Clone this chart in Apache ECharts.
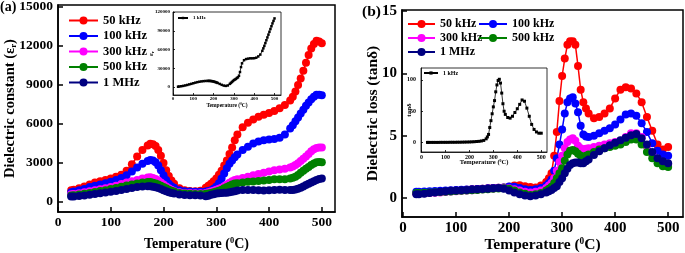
<!DOCTYPE html>
<html>
<head>
<meta charset="utf-8">
<title>Dielectric constant and dielectric loss vs temperature</title>
<script src="https://cdn.jsdelivr.net/npm/echarts@6.0.0/dist/echarts.min.js"></script>
<style>
    html, body { margin: 0; padding: 0; background: #fff; }
    #chart { width: 685px; height: 253px; }
</style>
</head>
<body>
<div id="chart"></div>
<script>

// Data - panel (a), dielectric constant
// ------------------------------

var tempsA = [
    25, 30, 40, 50, 60, 70, 80, 90, 100, 110, 120, 130, 140, 150, 160,
    170, 175, 180, 185, 190, 195, 200, 205, 210, 215, 220,
    230, 240, 250, 260, 270,
    280, 285, 290, 295, 300, 305, 310, 315, 320, 325, 330, 335, 340,
    350, 360, 370, 380, 390, 400, 410, 420, 430,
    440, 445, 450, 455, 460, 465, 470, 475, 480, 485, 490, 495, 500
];

var epsA50k = [
    900, 950, 1050, 1200, 1350, 1500, 1600, 1700, 1800, 1950, 2100, 2400, 2900, 3500, 4000,
    4350, 4480, 4450, 4300, 4000, 3550, 3000, 2450, 2000, 1650, 1400,
    1050, 900, 850, 830, 870,
    1100, 1250, 1400, 1600, 1800, 2100, 2400, 2800, 3200, 3700, 4200, 4750, 5200,
    5750, 6100, 6350, 6550, 6700, 6850, 7000, 7200, 7450,
    7800, 8100, 8500, 9000, 9500, 10100, 10700, 11300, 11800, 12150, 12400, 12350, 12200
];
var epsA100k = [
    750, 800, 900, 1000, 1150, 1250, 1350, 1450, 1550, 1700, 1850, 2050, 2350, 2650, 2950,
    3150, 3230, 3200, 3050, 2800, 2450, 2050, 1700, 1400, 1220, 1100,
    900, 820, 800, 790, 780,
    800, 840, 900, 1020, 1200, 1450, 1800, 2200, 2600, 2950, 3200, 3450, 3650,
    4000, 4250, 4500, 4650, 4750, 4800, 4850, 4950, 5200,
    5650, 5900, 6200, 6500, 6800, 7100, 7400, 7650, 7900, 8100, 8250, 8250, 8200
];
var epsA300k = [
    600, 620, 680, 750, 820, 900, 980, 1060, 1150, 1250, 1380, 1500, 1600, 1700, 1800,
    1880, 1900, 1850, 1760, 1650, 1500, 1350, 1200, 1050, 950, 850,
    750, 700, 690, 680, 680,
    700, 740, 800, 870, 950, 1020, 1100, 1220, 1350, 1480, 1600, 1690, 1750,
    1850, 1950, 2050, 2150, 2250, 2350, 2450, 2500, 2550,
    2650, 2730, 2850, 2980, 3150, 3320, 3500, 3700, 3900, 4050, 4150, 4200, 4200
];
var epsA500k = [
    500, 520, 580, 640, 700, 770, 840, 910, 990, 1080, 1170, 1260, 1350, 1430, 1500,
    1530, 1530, 1480, 1420, 1350, 1250, 1150, 1050, 950, 870, 800,
    700, 650, 630, 620, 620,
    630, 660, 700, 750, 800, 870, 950, 1050, 1150, 1250, 1350, 1420, 1450,
    1500, 1550, 1580, 1620, 1660, 1700, 1750, 1750, 1750,
    1800, 1860, 1950, 2080, 2250, 2400, 2550, 2700, 2850, 2960, 3050, 3070, 3050
];
var epsA1M = [
    420, 430, 460, 500, 560, 620, 680, 730, 780, 850, 920, 1000, 1080, 1150, 1200,
    1220, 1220, 1180, 1140, 1080, 1000, 900, 820, 750, 700, 650,
    580, 540, 520, 510, 500,
    450, 480, 550, 600, 650, 680, 700, 710, 720, 750, 780, 830, 880,
    930, 930, 920, 900, 890, 900, 930, 950, 930,
    920, 930, 960, 1020, 1100, 1200, 1300, 1400, 1500, 1600, 1700, 1770, 1800
];
// inset of (a): 1 kHz
var epsA1k = [
    500, 800, 1200, 1800, 2500, 3300, 4200, 5100, 6000, 7000, 7800, 8500, 9000, 9400, 9700,
    9800, 9850, 9800, 9700, 9500, 9200, 8800, 8300, 7800, 7200, 6500,
    5000, 3500, 2300, 1800, 2500,
    5000, 6500, 8000, 9500, 11000, 12000, 13000, 14500, 15500, 18000, 24000, 32000, 38000,
    43000, 44800, 45500, 46000, 46000, 46200, 47000, 49000, 52000,
    58000, 62000, 66000, 70500, 75000, 79500, 84000, 88500, 93000, 97500, 102000, 106000, 110000
];

// Data - panel (b), dielectric loss
// ------------------------------

var tempsB = [
    25, 30, 40, 50, 60, 70, 80, 90, 100, 110, 120, 130, 140, 150, 160, 170, 180, 190, 200, 210, 220, 230, 240, 250, 260, 270,
    275, 280, 285, 290, 295, 300, 305, 310, 315, 320, 325, 330, 335, 340, 345,
    350, 360, 370, 380, 390, 400, 410, 420, 430, 440, 450, 460, 470, 480, 490, 500
];

var lossB50k = [
    0.40, 0.40, 0.42, 0.45, 0.48, 0.52, 0.55, 0.58, 0.60, 0.63, 0.66, 0.70, 0.72, 0.75, 0.78, 0.80, 0.82, 0.85, 0.90, 1.00, 1.02, 0.95, 0.88, 0.85, 1.00, 1.30,
    1.60, 2.00, 3.40, 5.30, 7.80, 9.80, 11.2, 12.3, 12.6, 12.6, 12.3, 10.6, 8.7, 7.7, 7.2,
    6.8, 6.4, 6.5, 6.8, 7.2, 8.0, 8.7, 8.9, 8.8, 8.4, 7.7, 6.5, 5.4, 4.3, 3.9, 4.1
];
var lossB100k = [
    0.50, 0.50, 0.52, 0.54, 0.56, 0.58, 0.60, 0.62, 0.64, 0.66, 0.68, 0.70, 0.72, 0.75, 0.78, 0.80, 0.82, 0.85, 0.92, 0.90, 0.80, 0.70, 0.65, 0.70, 0.80, 1.00,
    1.20, 1.50, 2.20, 3.20, 4.30, 5.50, 6.80, 7.70, 8.00, 8.10, 7.60, 6.90, 5.80, 5.10, 4.95,
    4.90, 5.00, 5.20, 5.40, 5.60, 5.90, 6.30, 6.70, 6.80, 6.60, 6.00, 5.30, 4.40, 3.80, 3.50, 3.40
];
var lossB300k = [
    0.35, 0.36, 0.38, 0.40, 0.42, 0.45, 0.48, 0.52, 0.55, 0.58, 0.60, 0.63, 0.66, 0.70, 0.73, 0.76, 0.80, 0.80, 0.78, 0.70, 0.60, 0.50, 0.45, 0.50, 0.60, 0.80,
    1.00, 1.20, 1.60, 2.20, 2.90, 3.40, 4.00, 4.50, 4.70, 4.80, 4.60, 4.20, 4.00, 3.90, 3.95,
    4.00, 4.10, 4.20, 4.30, 4.40, 4.50, 4.60, 4.90, 5.20, 5.20, 4.90, 4.20, 3.60, 3.10, 2.80, 2.70
];
var lossB500k = [
    0.40, 0.40, 0.42, 0.44, 0.46, 0.48, 0.50, 0.53, 0.56, 0.58, 0.60, 0.62, 0.65, 0.68, 0.71, 0.74, 0.77, 0.78, 0.75, 0.60, 0.45, 0.35, 0.25, 0.30, 0.40, 0.60,
    0.75, 0.90, 1.20, 1.60, 2.00, 2.40, 3.00, 3.50, 3.80, 3.85, 3.75, 3.55, 3.40, 3.30, 3.40,
    3.50, 3.70, 3.90, 4.00, 4.10, 4.20, 4.30, 4.50, 4.70, 4.70, 4.30, 3.70, 3.20, 2.80, 2.55, 2.50
];
var lossB1M = [
    0.30, 0.30, 0.35, 0.40, 0.45, 0.50, 0.55, 0.58, 0.60, 0.62, 0.65, 0.68, 0.70, 0.72, 0.75, 0.78, 0.80, 0.75, 0.60, 0.45, 0.30, 0.20, 0.15, 0.20, 0.30, 0.45,
    0.55, 0.65, 0.80, 0.95, 1.30, 1.60, 2.00, 2.35, 2.65, 2.80, 2.85, 2.85, 2.80, 2.80, 2.95,
    3.10, 3.45, 3.75, 4.00, 4.25, 4.45, 4.65, 4.85, 5.05, 5.15, 4.80, 4.30, 3.70, 3.20, 2.95, 2.80
];
// inset of (b): 1 kHz
var lossB1k = [
    0.3, 0.3, 0.3, 0.3, 0.3, 0.3, 0.4, 0.4, 0.4, 0.4, 0.5, 0.5, 0.5, 0.6, 0.6, 0.7, 0.8, 0.9, 1.0, 1.2, 1.4, 1.7, 2.0, 2.6, 3.5, 6.0,
    9, 13, 24, 35, 46, 57, 67, 81, 92, 99, 101, 95, 79, 62, 50,
    45, 40, 39, 42, 48, 54, 61, 68, 66, 55, 42, 29, 21, 17, 15, 15
];

// Tick labels
var tempTicks = [0, 100, 200, 300, 400, 500];
var epsTicks = [0, 3000, 6000, 9000, 12000, 15000];
var epsInsetTicks = [0, 30000, 60000, 90000, 120000];
var lossTicks = [0, 5, 10, 15];
var lossInsetTicks = [0, 50, 100];

var freqNames = ['50 kHz', '100 kHz', '300 kHz', '500 kHz', '1 MHz'];
var freqColors = ['#ff0000', '#0000ff', '#ff00ff', '#008000', '#000080'];


// Setup
// ------------------------------

var FONT = "'Liberation Serif', 'Times New Roman', serif";

var pairs = function(temps, values) {
    return temps.map(function(t, i) { return [t, values[i]]; });
};

var plainLabel = function(v) { return String(v); };

// value axis in the Origin style: ticks inside, bold serif labels
var valueAxis = function(o) {
    return {
        type: 'value',
        gridIndex: o.grid,
        min: o.min,
        max: o.max,
        name: o.name,
        nameLocation: 'middle',
        nameGap: o.nameGap,
        nameMoveOverlap: false,
        nameTextStyle: {
            fontFamily: FONT,
            fontWeight: 'bold',
            fontSize: o.nameSize,
            color: '#000',
            rich: {
                sup: { fontFamily: FONT, fontWeight: 'bold', fontSize: o.nameSize * 0.6, verticalAlign: 'top', color: '#000' },
                sub: { fontFamily: FONT, fontWeight: 'bold', fontSize: o.nameSize * 0.6, verticalAlign: 'bottom', color: '#000' }
            }
        },
        axisLine: { show: true, onZero: false, lineStyle: { color: '#000', width: o.lineWidth } },
        axisTick: {
            show: true, inside: true, length: o.tickLen, customValues: o.ticks,
            lineStyle: { color: '#000', width: o.lineWidth }
        },
        axisLabel: {
            customValues: o.ticks,
            margin: o.labelMargin,
            fontFamily: FONT,
            fontWeight: 'bold',
            fontSize: o.labelSize,
            color: '#000',
            formatter: plainLabel
        },
        splitLine: { show: false }
    };
};

var freqSeries = function(name, color, temps, values, axisIndex) {
    return {
        name: name,
        type: 'line',
        xAxisIndex: axisIndex,
        yAxisIndex: axisIndex,
        data: pairs(temps, values),
        symbol: 'circle',
        symbolSize: 8,
        showSymbol: true,
        showAllSymbol: true,
        lineStyle: { color: color, width: 1.5 },
        itemStyle: { color: color },
        animation: false
    };
};

var insetSeries = function(temps, values, axisIndex, size) {
    return {
        name: '1 kHz',
        type: 'line',
        xAxisIndex: axisIndex,
        yAxisIndex: axisIndex,
        data: pairs(temps, values),
        symbol: 'rect',
        symbolSize: size,
        showSymbol: true,
        showAllSymbol: true,
        lineStyle: { color: '#000', width: 0.8 },
        itemStyle: { color: '#000' },
        animation: false
    };
};

var legendText = function(size) {
    return { fontFamily: FONT, fontWeight: 'bold', fontSize: size, color: '#000' };
};

var gridBox = function(left, top, width, height, border, bg) {
    return {
        left: left, top: top, width: width, height: height,
        containLabel: false,
        outerBoundsMode: 'none',
        show: true,
        borderColor: '#000',
        borderWidth: border,
        backgroundColor: bg
    };
};

var series = [];
freqNames.forEach(function(n, i) {
    var vals = [epsA50k, epsA100k, epsA300k, epsA500k, epsA1M][i];
    series.push(freqSeries(n, freqColors[i], tempsA, vals, 0));
});
series.push(insetSeries(tempsA, epsA1k, 1, 2.5));
freqNames.forEach(function(n, i) {
    var vals = [lossB50k, lossB100k, lossB300k, lossB500k, lossB1M][i];
    series.push(freqSeries(n, freqColors[i], tempsB, vals, 2));
});
series.push(insetSeries(tempsB, lossB1k, 3, 3));

var chartElement = document.getElementById('chart');
var chart = echarts.init(chartElement, null, { renderer: 'canvas' });

chart.setOption({
    animation: false,
    backgroundColor: '#fff',
    textStyle: { fontFamily: FONT },

    title: [
        { text: '(a)', left: 0, top: 0, padding: 0, textStyle: { fontFamily: FONT, fontWeight: 'bold', fontSize: 14, color: '#000' } },
        { text: '(b)', left: 362, top: 4, padding: 0, textStyle: { fontFamily: FONT, fontWeight: 'bold', fontSize: 15.5, color: '#000' } }
    ],

    grid: [
        gridBox(58, 5, 277, 207, 1.5, 'transparent'),
        gridBox(173, 12, 108, 83, 0.8, '#fff'),
        gridBox(402, 10, 281, 207, 1.5, 'transparent'),
        gridBox(421, 68, 126, 84, 0.8, '#fff')
    ],

    xAxis: [
        valueAxis({ grid: 0, min: 0, max: 525, ticks: tempTicks, name: 'Temperature ({sup|0}C)',
            nameGap: 25, nameSize: 14, labelSize: 13.5, labelMargin: 4, tickLen: 5, lineWidth: 1.5 }),
        valueAxis({ grid: 1, min: 0, max: 532, ticks: tempTicks, name: 'Temperature ({sup|0}C)',
            nameGap: 8, nameSize: 5.5, labelSize: 5, labelMargin: 1.5, tickLen: 2, lineWidth: 0.8 }),
        valueAxis({ grid: 2, min: -2, max: 528, ticks: tempTicks, name: 'Temperature ({sup|0}C)',
            nameGap: 20, nameSize: 15.5, labelSize: 15, labelMargin: 4, tickLen: 5, lineWidth: 1.5 }),
        valueAxis({ grid: 3, min: -2, max: 524, ticks: tempTicks, name: 'Temperature ({sup|0}C)',
            nameGap: 7, nameSize: 6.5, labelSize: 6, labelMargin: 2, tickLen: 2, lineWidth: 0.8 })
    ],

    yAxis: [
        valueAxis({ grid: 0, min: -770, max: 15150, ticks: epsTicks, name: 'Dielectric constant (ε{sub|r})',
            nameGap: 40, nameSize: 14.5, labelSize: 13.5, labelMargin: 5, tickLen: 5, lineWidth: 1.5 }),
        valueAxis({ grid: 1, min: -12800, max: 120300, ticks: epsInsetTicks, name: 'ε{sub|r}',
            nameGap: 18, nameSize: 7, labelSize: 5, labelMargin: 3, tickLen: 2, lineWidth: 0.8 }),
        valueAxis({ grid: 2, min: -1.52, max: 15.1, ticks: lossTicks, name: 'Dielectric loss (tanδ)',
            nameGap: 21, nameSize: 15.5, labelSize: 15, labelMargin: 5, tickLen: 5, lineWidth: 1.5 }),
        valueAxis({ grid: 3, min: -15, max: 119, ticks: lossInsetTicks, name: 'tanδ',
            nameGap: 8, nameSize: 7, labelSize: 6, labelMargin: 5, tickLen: 2, lineWidth: 0.8 })
    ],

    legend: [
        {
            data: freqNames, orient: 'vertical', left: 68, top: 14, padding: 0,
            itemWidth: 29, itemHeight: 10, itemGap: 2.5, selectedMode: false,
            textStyle: legendText(12.5)
        },
        {
            data: ['50 kHz', '300 kHz', '1 MHz'], orient: 'vertical', left: 407, top: 18, padding: 0,
            itemWidth: 27, itemHeight: 10, itemGap: 2, selectedMode: false,
            textStyle: legendText(12)
        },
        {
            data: ['100 kHz', '500 kHz'], orient: 'vertical', left: 478, top: 18, padding: 0,
            itemWidth: 28, itemHeight: 10, itemGap: 2, selectedMode: false,
            textStyle: legendText(12)
        },
        {
            data: ['1 kHz'], orient: 'vertical', left: 177, top: 15.5, padding: 0,
            itemWidth: 10, itemHeight: 3, itemGap: 2, selectedMode: false,
            textStyle: legendText(5)
        },
        {
            data: ['1 kHz'], orient: 'vertical', left: 423, top: 70, padding: 0,
            itemWidth: 14, itemHeight: 4, itemGap: 2, selectedMode: false,
            textStyle: legendText(6)
        }
    ],

    series: series
});

</script>
</body>
</html>
